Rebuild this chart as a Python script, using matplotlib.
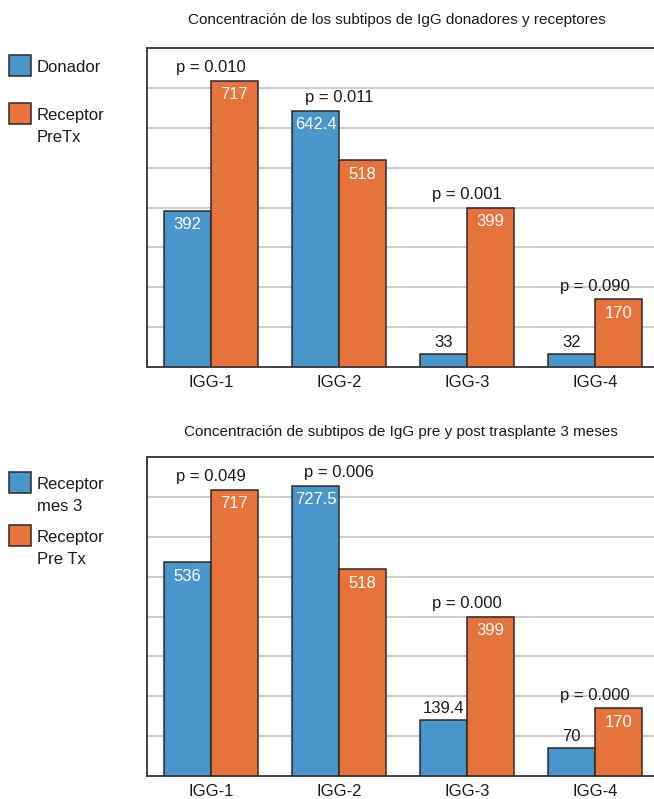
import matplotlib
matplotlib.use("Agg")
import matplotlib.pyplot as plt
from matplotlib.patches import Rectangle
import numpy as np

plt.rcParams['font.family'] = ['Liberation Sans', 'DejaVu Sans']

categories = ["IGG-1", "IGG-2", "IGG-3", "IGG-4"]

# Panel 1: donors vs recipients before transplant
title_1 = "Concentración de los subtipos de IgG donadores y receptores"
donador = [392, 642.4, 33, 32]
receptor_pretx = [717, 518, 399, 170]
donador_labels = ["392", "642.4", "33", "32"]
receptor_pretx_labels = ["717", "518", "399", "170"]
pvalues_1 = ["p = 0.010", "p = 0.011", "p = 0.001", "p = 0.090"]
legend_1 = [["Donador"], ["Receptor", "PreTx"]]

# Panel 2: recipients pre vs 3 months post transplant
title_2 = "Concentración de subtipos de IgG pre y post trasplante 3 meses"
receptor_mes3 = [536, 727.5, 139.4, 70]
receptor_pre = [717, 518, 399, 170]
receptor_mes3_labels = ["536", "727.5", "139.4", "70"]
receptor_pre_labels = ["717", "518", "399", "170"]
pvalues_2 = ["p = 0.049", "p = 0.006", "p = 0.000", "p = 0.000"]
legend_2 = [["Receptor", "mes 3"], ["Receptor", "Pre Tx"]]

BLUE = "#4a95c9"
ORANGE = "#e6733c"
EDGE = "#2a2a2a"
TEXT = "#1a1a1a"
W, H = 654, 799

fig = plt.figure(figsize=(6.54, 7.99), dpi=100)


def px_axes(x0, y_top, x1, y_bot):
    return fig.add_axes([x0 / W, 1 - y_bot / H, (x1 - x0) / W, (y_bot - y_top) / H])


def draw_panel(ax, a, b, a_lab, b_lab, pvals):
    x = np.arange(len(categories))
    bw = 0.367
    ba = ax.bar(x - bw / 2, a, bw, color=BLUE, edgecolor=EDGE, linewidth=1.1, zorder=3)
    bb = ax.bar(x + bw / 2, b, bw, color=ORANGE, edgecolor=EDGE, linewidth=1.1, zorder=3)
    for bars, labs in ((ba, a_lab), (bb, b_lab)):
        for rect, lab in zip(bars, labs):
            h = rect.get_height()
            cx = rect.get_x() + rect.get_width() / 2
            if h > 150:
                ax.annotate(lab, (cx, h), xytext=(0, -10), textcoords="offset points",
                            ha="center", va="center", color="white", fontsize=12, zorder=4)
            else:
                ax.annotate(lab, (cx, h), xytext=(0, 8.5), textcoords="offset points",
                            ha="center", va="center", color=TEXT, fontsize=12, zorder=4)
    for i, p in enumerate(pvals):
        top = max(a[i], b[i])
        ax.annotate(p, (x[i], top), xytext=(0, 9.5), textcoords="offset points",
                    ha="center", va="center", color=TEXT, fontsize=12, zorder=4)
    ax.set_xlim(-0.5, 3.5)
    ax.set_ylim(0, 800)
    ax.set_yticks(np.arange(100, 800, 100))
    ax.yaxis.grid(True, color="#c4c4c4", linewidth=1.2, zorder=0)
    ax.set_yticklabels([])
    ax.tick_params(axis="y", length=0)
    ax.set_xticks(x)
    ax.set_xticklabels(categories, fontsize=12, color=TEXT)
    ax.tick_params(axis="x", length=0, pad=6)
    for s in ("left", "top", "bottom"):
        ax.spines[s].set_color("#333333")
        ax.spines[s].set_linewidth(1.3)
    ax.spines["right"].set_visible(False)
    ax.set_axisbelow(True)


def draw_legend(items, y_tops):
    for (lines, col), yt in zip(items, y_tops):
        fig.patches.append(Rectangle((9 / W, 1 - (yt + 21) / H), 22 / W, 21 / H,
                                     transform=fig.transFigure, facecolor=col,
                                     edgecolor=EDGE, linewidth=1.1))
        for k, line in enumerate(lines):
            fig.text(37 / W, 1 - (yt + 12.5 + 22 * k) / H, line, ha="left", va="center",
                     fontsize=12, color=TEXT)


ax1 = px_axes(147, 48, 659, 367)
draw_panel(ax1, donador, receptor_pretx, donador_labels, receptor_pretx_labels, pvalues_1)
fig.text(397 / W, 1 - 20 / H, title_1, ha="center", va="center", fontsize=11, color=TEXT)
draw_legend([(legend_1[0], BLUE), (legend_1[1], ORANGE)], [55, 103])

ax2 = px_axes(147, 457, 659, 776)
draw_panel(ax2, receptor_mes3, receptor_pre, receptor_mes3_labels, receptor_pre_labels, pvalues_2)
fig.text(401 / W, 1 - 432 / H, title_2, ha="center", va="center", fontsize=11, color=TEXT)
draw_legend([(legend_2[0], BLUE), (legend_2[1], ORANGE)], [472, 525])

fig.savefig("out.png", dpi=100)
